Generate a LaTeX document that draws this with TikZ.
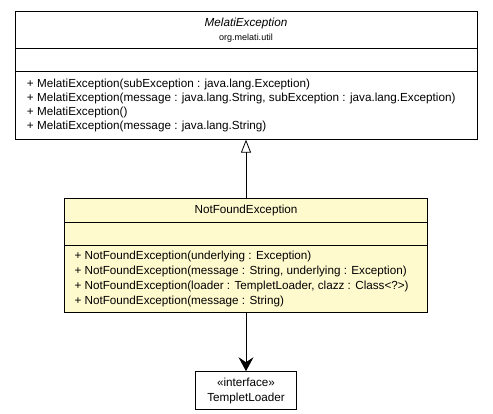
\documentclass[tikz,border=0pt]{standalone}
\usepackage{fontspec}
\newfontfamily\umlfont{Liberation Sans}
\usetikzlibrary{positioning,arrows.meta,shapes.multipart}
\definecolor{classyellow}{RGB}{255,249,206}

\begin{document}
\begin{tikzpicture}[
>=Latex,
classbox/.style={
draw,
rectangle split,
rectangle split parts=3,
inner sep=0pt,
line width=0.9pt,
fill=white,
font=\umlfont\fontsize{11.7}{14.3}\selectfont
},
ifacebox/.style={
draw,
inner sep=0pt,
line width=0.9pt,
minimum width=101pt,
minimum height=38pt,
align=center,
font=\umlfont\fontsize{11.7}{15}\selectfont
}
]

\useasboundingbox (0,0) rectangle (493pt,-413pt);

%%%%%%%%%%%%%%%%%%%%%%%%%%%%%%%%%%%%%%%%%%%%%
% Classes
%%%%%%%%%%%%%%%%%%%%%%%%%%%%%%%%%%%%%%%%%%%%%

\node[classbox,anchor=north] (melati) at (246pt,-11pt)
{\parbox[c][36pt][c]{462pt}{\centering\textit{MelatiException}\\[0pt]{\fontsize{9}{11}\selectfont org.melati.util}}
\nodepart{two}\parbox[c][22.5pt][c]{462pt}{}
\nodepart{three}\parbox[c][66.5pt][c]{462pt}{\raggedright\leftskip=12pt
+ MelatiException(subException : java.lang.Exception)\\
+ MelatiException(message : java.lang.String, subException : java.lang.Exception)\\
+ MelatiException()\\
+ MelatiException(message : java.lang.String)}};

\node[classbox,fill=classyellow,font=\umlfont\fontsize{11.7}{15}\selectfont,below=58pt of melati] (notfound)
{\parbox[c][23pt][c]{363pt}{\centering NotFoundException}
\nodepart{two}\parbox[c][23pt][c]{363pt}{}
\nodepart{three}\parbox[c][66pt][c]{363pt}{\raggedright\leftskip=10pt
+ NotFoundException(underlying : Exception)\\
+ NotFoundException(message : String, underlying : Exception)\\
+ NotFoundException(loader : TempletLoader, clazz : Class<?>)\\
+ NotFoundException(message : String)}};

\node[ifacebox,below=58pt of notfound] (loader)
{«interface»\\TempletLoader};

%%%%%%%%%%%%%%%%%%%%%%%%%%%%%%%%%%%%%%%%%%%%%
% Connections
%%%%%%%%%%%%%%%%%%%%%%%%%%%%%%%%%%%%%%%%%%%%%

\draw[-{Triangle[open,length=13pt,width=10pt]},line width=0.8pt] (notfound)--(melati);

\draw[-{Stealth[length=14pt,width=15pt,inset=5pt]},line width=1pt] (notfound)--(loader);

\end{tikzpicture}
\end{document}
